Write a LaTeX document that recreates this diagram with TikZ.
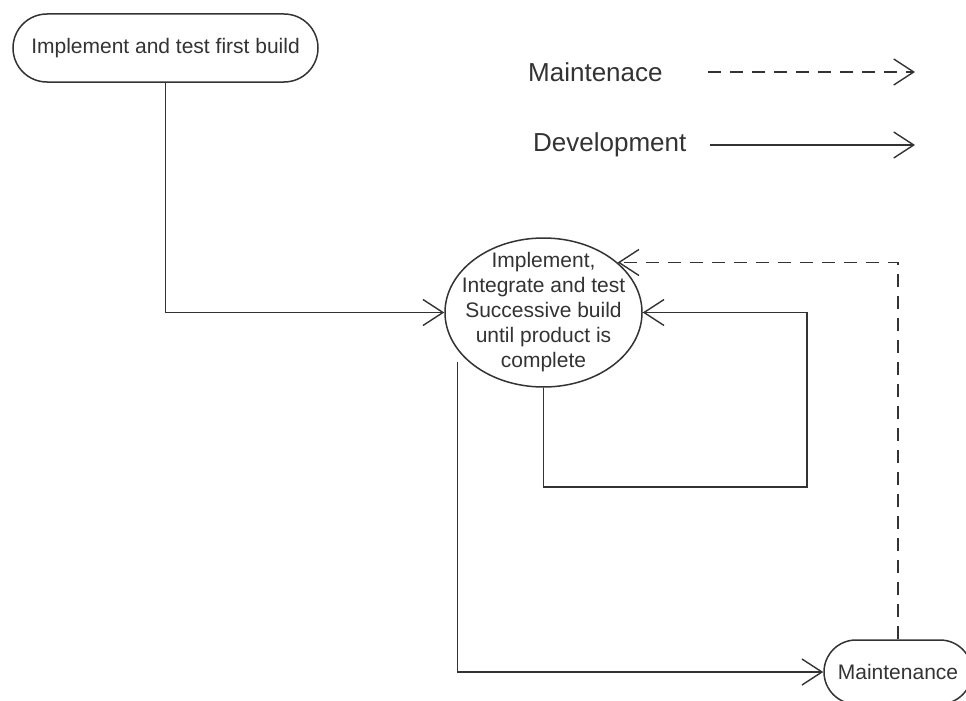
\documentclass[tikz,border=0pt]{standalone}
\usepackage{fontspec}
\setmainfont{Liberation Sans}
\usetikzlibrary{arrows.meta,shapes.geometric}
\definecolor{ln}{HTML}{333333}
\definecolor{tx}{HTML}{333333}
\tikzset{
  conn/.style={draw=ln, line width=1.8pt, -{Straight Barb[length=20pt,width=26pt,line width=1.4pt]}},
  dev/.style={conn},
  maint/.style={conn, dash pattern=on 13pt off 9pt},
  pill/.style={draw=ln, line width=1.5pt, rectangle, inner sep=0pt, text=tx,
    font=\fontsize{21}{25}\selectfont},
  bubble/.style={draw=ln, line width=1.5pt, ellipse, inner xsep=-25pt, inner ysep=-20pt, text=tx, align=center,
    font=\fontsize{21}{25}\selectfont, minimum width=197pt, minimum height=149pt},
  legendtext/.style={anchor=west, inner sep=0pt, text=tx, font=\fontsize{26}{30}\selectfont}
}
\begin{document}
\begin{tikzpicture}[x=1pt,y=-1pt]
\useasboundingbox[fill=white] (0,0) rectangle (966,701);

% nodes
\node[pill, rounded corners=34pt, minimum width=305pt, minimum height=68pt] (tl) at (165.5,48) {Implement and test first build};
\node[bubble] (c) at (543.5,312.5) {Implement,\\Integrate and test\\Successive build\\until product is\\complete};
\node[pill, rounded corners=32pt, minimum width=148pt, minimum height=64pt] (m) at (898,672) {Maintenance};

% legend
\node[legendtext] (lm) at (528,72) {Maintenace};
\node[legendtext] (ld) at (533,145) {Development};
\coordinate (lma) at (708,72);
\coordinate (lmb) at (915,72);
\coordinate (lda) at (710,145);
\coordinate (ldb) at (915,145);
\draw[maint] (lma) -- (lmb);
\draw[dev] (lda) -- (ldb);

% connectors
\draw[dev] (tl) |- (c);
\coordinate (lb) at (807,487);
\draw[dev] (c.south) |- (lb) |- (c.east);
\coordinate (ls) at (457.5,362);
\draw[dev] (ls) |- (m);
\draw[maint] (m.north) |- (c.34);
\end{tikzpicture}
\end{document}
